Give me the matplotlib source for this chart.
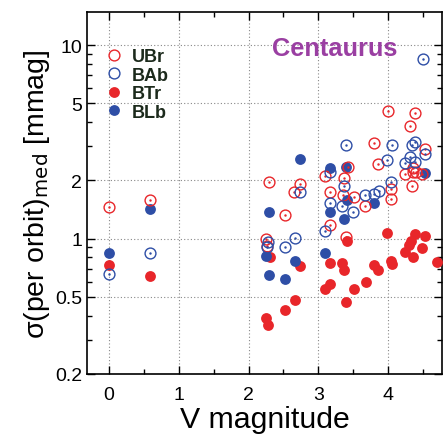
import matplotlib
matplotlib.use("Agg")
import matplotlib.pyplot as plt
import numpy as np
from matplotlib.lines import Line2D
from matplotlib.ticker import FixedLocator, LogLocator, NullFormatter, MultipleLocator

plt.rcParams['font.family'] = ['Liberation Sans', 'DejaVu Sans']

# V magnitude / sigma(per orbit)_med [mmag] for each satellite
ubr_v = [0.0, 0.59, 2.29, 2.25, 2.27, 2.52, 2.65, 2.74, 3.09, 3.42, 3.36, 3.17, 3.35, 3.51,
         3.67, 3.17, 3.40, 3.79, 3.85, 3.99, 4.04, 4.04, 4.24, 4.31, 4.34, 4.38, 4.35, 4.36,
         4.40, 4.48, 4.53]
ubr_s = [1.45, 1.58, 1.97, 1.0, 0.92, 1.32, 1.75, 1.92, 2.10, 2.34, 2.05, 1.75, 1.69, 1.65,
         1.47, 1.18, 1.02, 3.12, 2.42, 4.55, 1.80, 1.60, 2.16, 3.80, 1.88, 4.48, 2.31, 2.22,
         2.20, 2.15, 2.90]

bab_v = [0.0, 0.59, 2.28, 2.26, 2.52, 2.66, 2.74, 3.10, 3.17, 3.17, 3.34, 3.36, 3.40, 3.50,
         3.66, 3.80, 3.86, 3.98, 4.04, 4.05, 4.24, 4.31, 4.34, 4.38, 4.38, 4.49, 4.53]
bab_s = [0.66, 0.847, 0.96, 0.91, 0.90, 1.01, 1.75, 1.09, 2.2, 1.53, 1.47, 1.88, 3.05, 1.38,
         1.69, 1.70, 1.77, 2.56, 1.96, 3.03, 2.47, 2.64, 3.05, 3.15, 2.49, 8.47, 2.74]

btr_v = [0.0, 0.59, 2.25, 2.28, 2.30, 2.52, 2.66, 2.74, 3.10, 3.17, 3.17, 3.34, 3.36, 3.39,
         3.41, 3.51, 3.68, 3.79, 3.85, 3.98, 4.04, 4.05, 4.24, 4.30, 4.32, 4.35, 4.38, 4.48,
         4.53, 4.70]
btr_s = [0.73, 0.64, 0.39, 0.36, 0.80, 0.43, 0.48, 0.72, 0.548, 0.58, 0.75, 0.75, 0.69, 0.47,
         0.97, 0.55, 0.60, 0.73, 0.69, 1.07, 0.77, 0.74, 0.85, 0.93, 0.97, 0.80, 1.06, 0.89,
         1.03, 0.76]

blb_v = [0.0, 0.59, 2.25, 2.29, 2.29, 2.52, 2.66, 2.74, 3.10, 3.17, 3.17, 3.40, 3.41, 3.36,
         3.79, 4.53]
blb_s = [0.847, 1.42, 0.81, 1.38, 0.65, 0.62, 0.77, 2.58, 0.84, 2.31, 1.38, 2.34, 1.58, 1.26,
         1.53, 2.19]

red = '#e8262a'
blue = '#2e4ea6'

fig = plt.figure(figsize=(4.43, 4.39), dpi=100)
ax = fig.add_axes([0.196, 0.146, 0.802, 0.824])

ms = 7.8
ax.plot(btr_v, btr_s, 'o', color=red, ms=ms, mec='none', zorder=3)
ax.plot(blb_v, blb_s, 'o', color=blue, ms=ms, mec='none', zorder=3)
ax.plot(ubr_v, ubr_s, 'o', mfc='none', mec=red, ms=ms, mew=1.0, zorder=4)
ax.plot(ubr_v, ubr_s, '.', color=red, ms=1.5, zorder=4)
ax.plot(bab_v, bab_s, 'o', mfc='none', mec=blue, ms=ms, mew=1.0, zorder=4)
ax.plot(bab_v, bab_s, '.', color=blue, ms=1.5, zorder=4)

ax.set_yscale('log')
ax.set_xlim(-0.314, 4.77)
ax.set_ylim(0.2, 14.8)

ax.xaxis.set_major_locator(MultipleLocator(1))
ax.xaxis.set_minor_locator(MultipleLocator(0.5))
ax.yaxis.set_major_locator(FixedLocator([0.2, 0.5, 1, 2, 5, 10]))
ax.yaxis.set_major_formatter(plt.FuncFormatter(lambda v, p: '%g' % v))
ax.yaxis.set_minor_locator(LogLocator(base=10, subs=np.arange(2, 10)))
ax.yaxis.set_minor_formatter(NullFormatter())

ax.tick_params(which='both', direction='in', top=True, right=True, labelsize=14)
ax.tick_params(which='major', length=6, width=1)
ax.tick_params(axis='x', which='major', pad=9)
ax.tick_params(which='minor', length=3.5, width=1)
for s in ax.spines.values():
    s.set_linewidth(1.2)

ax.grid(True, which='major', linestyle=(0, (1, 2)), color='#888888', linewidth=0.8)
ax.set_axisbelow(True)

ax.set_xlabel('V magnitude', fontsize=21.8, labelpad=1)
ax.set_ylabel(r'σ(per orbit)$_{\rm med}$ [mmag]', fontsize=20.5, labelpad=2)

ax.text(0.52, 0.90, 'Centaurus', transform=ax.transAxes, fontsize=18.3,
        fontweight='bold', color='#9a3fa2', va='center')

handles = [
    Line2D([], [], ls='none', marker='o', mfc='none', mec=red, ms=ms),
    Line2D([], [], ls='none', marker='o', mfc='none', mec=blue, ms=ms),
    Line2D([], [], ls='none', marker='o', color=red, mec='none', ms=ms),
    Line2D([], [], ls='none', marker='o', color=blue, mec='none', ms=ms),
]
leg = ax.legend(handles, ['UBr', 'BAb', 'BTr', 'BLb'], loc='upper left',
                bbox_to_anchor=(0.0, 0.95), frameon=False, handlelength=1.0,
                handletextpad=0.5, labelspacing=0.08, borderaxespad=0.6,
                prop={'weight': 'bold', 'size': 13})
for t in leg.get_texts():
    t.set_color('#1c2a1c')

fig.savefig('out.png', dpi=100)
